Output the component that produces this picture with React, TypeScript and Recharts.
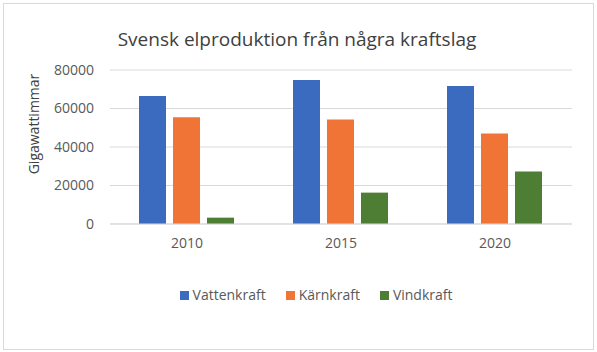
import { BarChart, Bar, XAxis, YAxis, CartesianGrid, Legend } from 'recharts'

const years = ['2010', '2015', '2020']
const vattenkraft = [66500, 74800, 71700]
const karnkraft = [55500, 54300, 47000]
const vindkraft = [3300, 16300, 27300]
const yTicks = [0, 20000, 40000, 60000, 80000]
const seriesOrder = ['Vattenkraft', 'Kärnkraft', 'Vindkraft']

const data = years.map((year, i) => ({
  year,
  Vattenkraft: vattenkraft[i],
  Kärnkraft: karnkraft[i],
  Vindkraft: vindkraft[i],
}))

const font = '"Open Sans", sans-serif'
const textColor = '#595959'

// Rotated y-axis title, placed relative to the axis box
function YLabel(props: any) {
  const vb = props.viewBox || { x: 0, y: 0, height: 0 }
  const x = vb.x + 13
  const y = vb.y + vb.height / 2 - 23
  return (
    <text
      x={x}
      y={y}
      transform={`rotate(-90, ${x}, ${y})`}
      textAnchor="middle"
      dominantBaseline="central"
      fill="#404040"
      fontSize={14}
      fontFamily={font}
    >
      Gigawattimmar
    </text>
  )
}

export default function App() {
  return (
    <div
      style={{
        position: 'absolute',
        left: 0,
        top: 0,
        width: 597,
        height: 352,
        background: '#fff',
        fontFamily: font,
      }}
    >
      <div
        style={{
          position: 'absolute',
          left: 3,
          top: 3,
          width: 591,
          height: 347,
          border: '1px solid #d9d9d9',
          boxSizing: 'border-box',
        }}
      />
      <div
        style={{
          position: 'absolute',
          left: 0,
          top: 26,
          width: 594,
          textAlign: 'center',
          fontSize: 19,
          color: '#404040',
        }}
      >
        Svensk elproduktion från några kraftslag
      </div>
      <div style={{ position: 'absolute', left: 0, top: 0 }}>
        <BarChart
          width={597}
          height={352}
          data={data}
          margin={{ top: 70, right: 25, left: 20, bottom: 47 }}
          barCategoryGap={29}
          barGap={7}
        >
          <CartesianGrid vertical={false} stroke="#d9d9d9" />
          <XAxis
            dataKey="year"
            height={59}
            axisLine={{ stroke: '#d9d9d9' }}
            tickLine={false}
            tickSize={0}
            tickMargin={14}
            tick={{ fill: textColor, fontSize: 14, fontFamily: font }}
          />
          <YAxis
            width={90}
            domain={[0, 80000]}
            ticks={yTicks}
            axisLine={false}
            tickLine={false}
            tickSize={0}
            tickMargin={16}
            tick={{ fill: textColor, fontSize: 14, fontFamily: font }}
            label={<YLabel />}
          />
          <Legend
            verticalAlign="bottom"
            iconType="square"
            iconSize={9}
            wrapperStyle={{ left: 50 }}
            itemSorter={(item: any) => seriesOrder.indexOf(item.value)}
            formatter={(value: string) => (
              <span style={{ color: textColor, fontSize: 14, marginRight: 10 }}>
                {value}
              </span>
            )}
          />
          <Bar dataKey="Vattenkraft" fill="#3a6bbf" isAnimationActive={false} />
          <Bar dataKey="Kärnkraft" fill="#ef7436" isAnimationActive={false} />
          <Bar dataKey="Vindkraft" fill="#4e7d34" isAnimationActive={false} />
        </BarChart>
      </div>
    </div>
  )
}
